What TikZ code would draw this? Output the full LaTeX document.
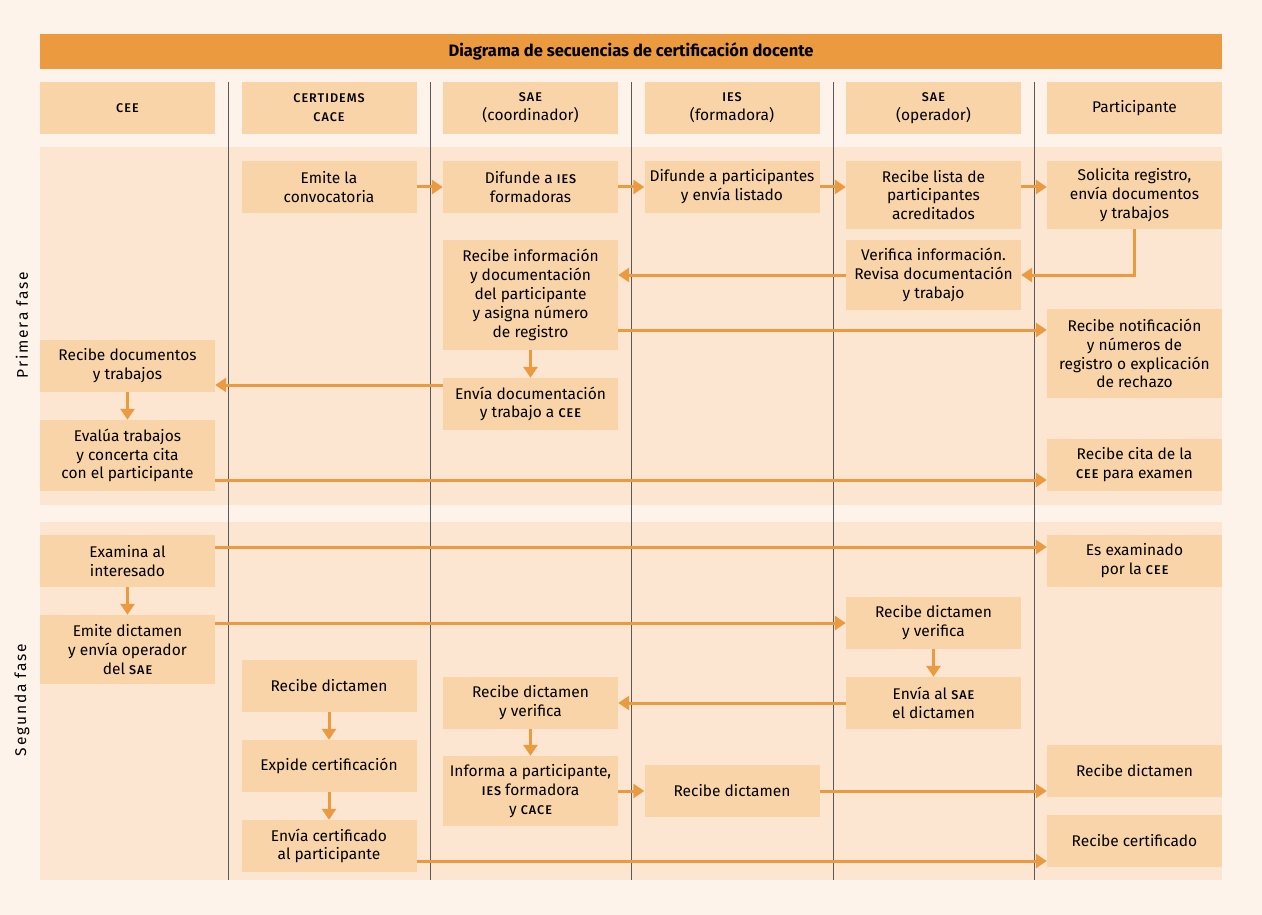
\documentclass[tikz,border=0pt]{standalone}
\usepackage{fontspec}
\setmainfont{Fira Sans}
\newfontfamily\spaced[LetterSpace=12]{Fira Sans}
\newfontfamily\smcfont[LetterSpace=8]{Fira Sans Medium}
\usetikzlibrary{arrows.meta}
\definecolor{bgc}{HTML}{FDF3EA}
\definecolor{band}{HTML}{FCE6D2}
\definecolor{boxc}{HTML}{F9D4A8}
\definecolor{orng}{HTML}{EC9A3F}
\newcommand\smc[1]{{\smcfont\fontsize{12.6}{15}\selectfont #1}}
\tikzset{
 bx/.style={fill=boxc, minimum width=175pt, align=center, inner sep=0pt, font=\fontsize{15.5}{18.8}\selectfont},
 arr/.style={draw=orng, line width=3pt, -{Triangle[length=11pt,width=14pt]}},
}
\newcommand\B[5]{\node[bx, minimum height=#4-#3] (#1) at (#2,{-(#3+#4)/2}) {#5};}
\begin{document}
\begin{tikzpicture}[x=1pt,y=1pt]
\fill[bgc] (0,0) rectangle (1262,-915);
\useasboundingbox (0,0) rectangle (1262,-915);
\fill[orng] (40,-34) rectangle (1222,-69);
\node[font=\bfseries\fontsize{16.5}{18}\selectfont] (title) at (631,-51.5) {Diagrama de secuencias de certificación docente};
\fill[band] (40,-147) rectangle (1222,-505);
\fill[band] (40,-522) rectangle (1222,-880);
\foreach \x in {228,430,631,833,1034} \draw[gray!70!black, line width=0.5pt] (\x,-82) -- (\x,-880);
% headers
\B{h1}{127.5}{82}{134}{\smc{CEE}}
\B{h2}{329}{82}{134}{\smc{CERTIDEMS}\\\smc{CACE}}
\B{h3}{530.5}{82}{134}{\smc{SAE}\\(coordinador)}
\B{h4}{732}{82}{134}{\smc{IES}\\(formadora)}
\B{h5}{933.5}{82}{134}{\smc{SAE}\\(operador)}
\B{h6}{1134.5}{82}{134}{Participante}
\node[rotate=90, font=\spaced\fontsize{15.5}{18}\selectfont] (p1) at (22,-325) {Primera fase};
\node[rotate=90, font=\spaced\fontsize{15.5}{18}\selectfont] (p2) at (22,-700) {Segunda fase};
% first phase
\B{a1}{329}{161}{213}{Emite la\\convocatoria}
\B{a2}{530.5}{161}{213}{Difunde a \smc{IES}\\formadoras}
\B{a3}{732}{161}{213}{Difunde a participantes\\y envía listado}
\B{a4}{933.5}{161}{229}{Recibe lista de\\participantes\\acreditados}
\B{a5}{1134.5}{161}{229}{Solicita registro,\\envía documentos\\y trabajos}
\B{b5}{933.5}{240}{310}{Verifica información.\\Revisa documentación\\y trabajo}
\B{b3}{530.5}{240}{350}{Recibe información\\y documentación\\del participante\\y asigna número\\de registro}
\B{b6}{1134.5}{309}{398}{Recibe notificación\\y números de\\registro o explicación\\de rechazo}
\B{c1}{127.5}{340}{392}{Recibe documentos\\y trabajos}
\B{c3}{530.5}{378}{430}{Envía documentación\\y trabajo a \smc{CEE}}
\B{d1}{127.5}{420}{491}{Evalúa trabajos\\y concerta cita\\con el participante}
\B{d6}{1134.5}{439}{491}{Recibe cita de la\\\smc{CEE} para examen}
% second phase
\B{e1}{127.5}{535}{587}{Examina al\\interesado}
\B{e6}{1134.5}{535}{587}{Es examinado\\por la \smc{CEE}}
\B{f1}{127.5}{615}{684}{Emite dictamen\\y envía operador\\del \smc{SAE}}
\B{f5}{933.5}{597}{649}{Recibe dictamen\\y verifica}
\B{g2}{329}{660}{712}{Recibe dictamen}
\B{g3}{530.5}{677}{729}{Recibe dictamen\\y verifica}
\B{g5}{933.5}{677}{729}{Envía al \smc{SAE}\\el dictamen}
\B{h2b}{329}{740}{792}{Expide certificación}
\B{h3b}{530.5}{756}{826}{Informa a participante,\\\smc{IES} formadora\\y \smc{CACE}}
\B{h4b}{732}{765}{817}{Recibe dictamen}
\B{h6b}{1134.5}{745}{797}{Recibe dictamen}
\B{i2}{329}{820}{872}{Envía certificado\\al participante}
\B{i6}{1134.5}{815}{867}{Recibe certificado}
% arrows
\draw[arr] (a1.east) -- (a2.west);
\draw[arr] (a2.east) -- (a3.west);
\draw[arr] (a3.east) -- (a4.west|-a3.east);
\draw[arr] (a4.east|-a3.east) -- (a5.west|-a3.east);
\draw[arr] (a5.south) |- (b5.east);
\draw[arr] (b5.west) -- (b3.east|-b5.west);
\draw[arr] (b3.east|-0,-330) -- (b6.west|-0,-330);
\draw[arr] (b3.south) -- (c3.north);
\draw[arr] (c3.west|-0,-385) -- (c1.east|-0,-385);
\draw[arr] (c1.south) -- (d1.north);
\draw[arr] (d1.east|-0,-480) -- (d6.west|-0,-480);
\draw[arr] (e1.east|-0,-547) -- (e6.west|-0,-547);
\draw[arr] (e1.south) -- (f1.north);
\draw[arr] (f1.east|-0,-623) -- (f5.west|-0,-623);
\draw[arr] (f5.south) -- (g5.north);
\draw[arr] (g5.west|-0,-703) -- (g3.east|-0,-703);
\draw[arr] (g2.south) -- (h2b.north);
\draw[arr] (h2b.south) -- (i2.north);
\draw[arr] (g3.south) -- (h3b.north);
\draw[arr] (h3b.east|-0,-791) -- (h4b.west|-0,-791);
\draw[arr] (h4b.east|-0,-791) -- (h6b.west|-0,-791);
\draw[arr] (i2.east|-0,-861) -- (i6.west|-0,-861);
\end{tikzpicture}
\end{document}
